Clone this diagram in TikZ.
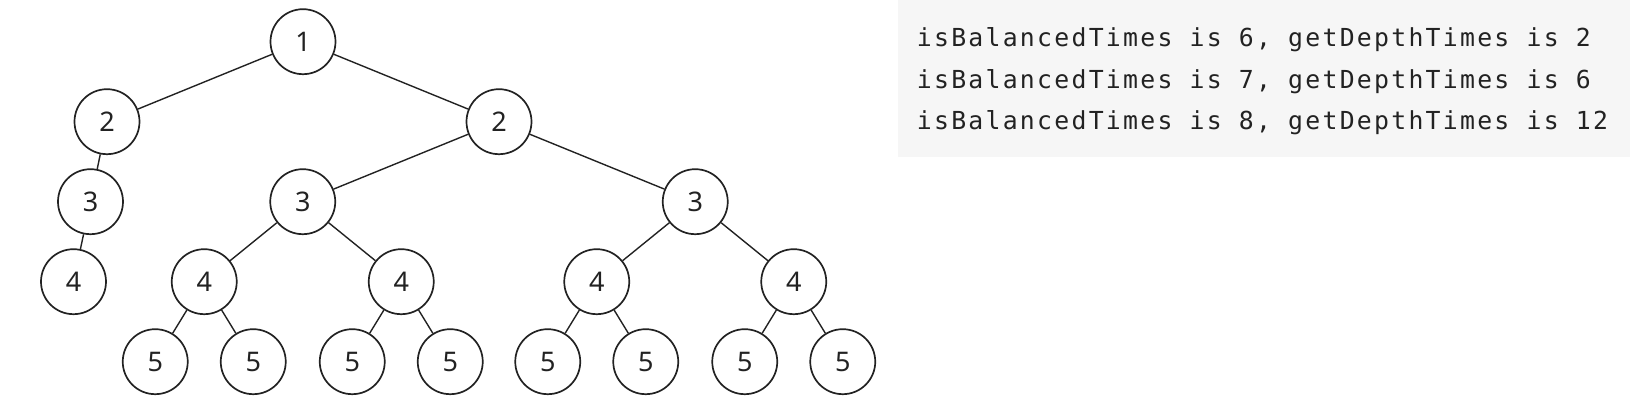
\documentclass[tikz,border=0pt]{standalone}
\usepackage{fontspec}
\setmainfont{Noto Sans}
\setmonofont[LetterSpace=9.1]{DejaVu Sans Mono}
\definecolor{ink}{RGB}{34,34,34}
\definecolor{codebg}{RGB}{246,246,246}
\tikzset{
  num/.style={circle,draw=ink,line width=0.85pt,minimum size=32.5pt,inner sep=0pt,
    text=ink,font=\fontsize{13.5}{16}\selectfont},
  codeline/.style={anchor=west,inner sep=0pt,text=ink,font=\ttfamily\fontsize{12.4}{14}\selectfont}
}
\begin{document}
\begin{tikzpicture}[level distance=40pt,
  every child node/.style={num},
  edge from parent/.style={draw=ink,line width=0.7pt},
  level 1/.style={sibling distance=196pt},
  level 2/.style={sibling distance=196.25pt},
  level 3/.style={sibling distance=98.5pt},
  level 4/.style={sibling distance=49pt}]
\useasboundingbox (0,0) rectangle (815pt,205pt);
% output box on the right
\fill[codebg] (449pt,126.5pt) rectangle (815pt,205pt);
\node[codeline] (out1) at (458.25pt,185.15pt) {isBalancedTimes is 6, getDepthTimes is 2};
\node[codeline] (out2) at (458.25pt,164.4pt) {isBalancedTimes is 7, getDepthTimes is 6};
\node[codeline] (out3) at (458.25pt,143.6pt) {isBalancedTimes is 8, getDepthTimes is 12};
% the tree
\node[num] (root) at (151.5pt,184.15pt) {1}
child {node (a) {2}
    child[xshift=-8.25pt] {node (aa) {3}
          child[xshift=-8.5pt] {node (aaa) {4}}}
    }
child {node (b) {2}
    child {node (ba) {3}
          child {node (baa) {4}
                child {node (baaa) {5}}
                child {node (baab) {5}}}
          child {node (bab) {4}
                child {node (baba) {5}}
                child {node (babb) {5}}}}
    child {node (bb) {3}
          child {node (bba) {4}
                child {node (bbaa) {5}}
                child {node (bbab) {5}}}
          child {node (bbb) {4}
                child {node (bbba) {5}}
                child {node (bbbb) {5}}}}
    };
\end{tikzpicture}
\end{document}
